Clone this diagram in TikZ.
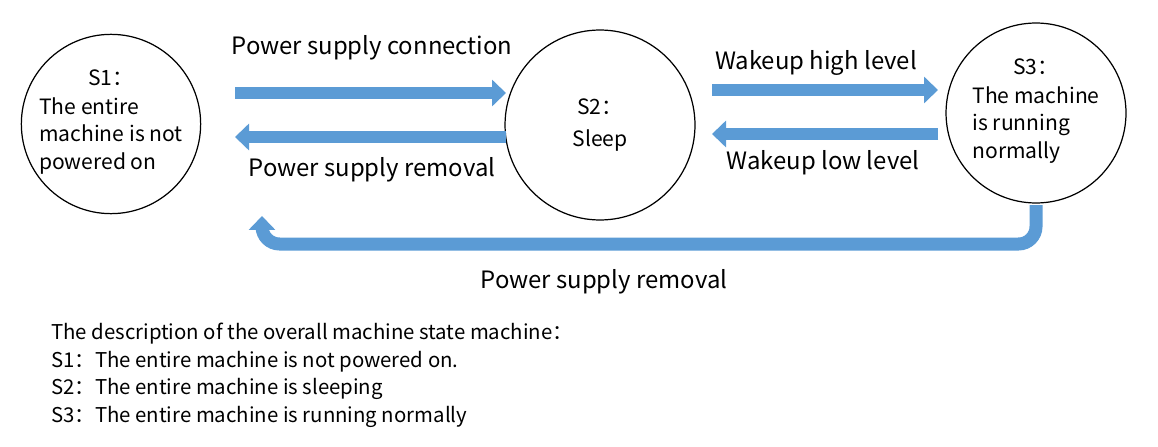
\documentclass[tikz,border=0pt]{standalone}
\usepackage{fontspec}
\setmainfont{Noto Sans CJK SC}
\usetikzlibrary{arrows.meta}
\usetikzlibrary{positioning}

\definecolor{arrowblue}{RGB}{91,155,213}

\tikzset{
  state/.style = {draw, circle, line width = 0.7pt, inner sep = 0pt},
  fatarrow/.style = {line width = 0.26cm, arrowblue, -{Triangle[length = 0.28cm, width = 0.52cm]}},
  lbl/.style = {font = \fontsize{13.6}{16}\selectfont},
  txt/.style = {font = \fontsize{12}{15.8}\selectfont},
  desctxt/.style = {font = \fontsize{11.6}{15.7}\selectfont}
}

\begin{document}
\begin{tikzpicture}[x = 0.02cm, y = -0.02cm]
\useasboundingbox (0, 0) rectangle (1158, 446);

\node[state, minimum size = 3.48cm, txt, align = center] (S1) at (111, 124)
  {S1：\\[4pt]\begin{tabular}{@{}l@{}}The entire\\machine is not\\powered on\end{tabular}};
\node[state, minimum size = 3.8cm, txt, align = center] (S2) at (600, 125) {S2：\\[2pt]Sleep};
\node[state, minimum size = 3.6cm, txt, align = center] (S3) at (1036, 113)
  {S3：\\[4pt]\begin{tabular}{@{}l@{}}The machine\\is running\\normally\end{tabular}};

\coordinate (A) at (235, 93);
\coordinate (B) at (506, 93);
\coordinate (C) at (506, 137);
\coordinate (D) at (235, 137);
\draw[fatarrow] (A) -- (B);
\draw[fatarrow] (C) -- (D);
\node[lbl] (connect) at (372, 48) {Power supply connection};
\node[lbl] (remove) at (372, 170) {Power supply removal};

\coordinate (E) at (712, 90);
\coordinate (F) at (938, 90);
\coordinate (G) at (938, 134);
\coordinate (H) at (712, 134);
\draw[fatarrow] (E) -- (F);
\draw[fatarrow] (G) -- (H);
\node[lbl] (high) at (816, 63) {Wakeup high level};
\node[lbl] (low) at (823, 163) {Wakeup low level};

\coordinate (K) at (1036, 205);
\coordinate (L) at (262, 216);
\draw[fatarrow, rounded corners = 0.35cm] (K) -- (1036, 244) -- (262, 244) -- (L);
\node[lbl] (removeall) at (604, 282) {Power supply removal};

\node[desctxt, align = left, anchor = north west] (desc) at (45, 317)
  {The description of the overall machine state machine：\\
   S1：The entire machine is not powered on.\\
   S2：The entire machine is sleeping\\
   S3：The entire machine is running normally};

\end{tikzpicture}
\end{document}
